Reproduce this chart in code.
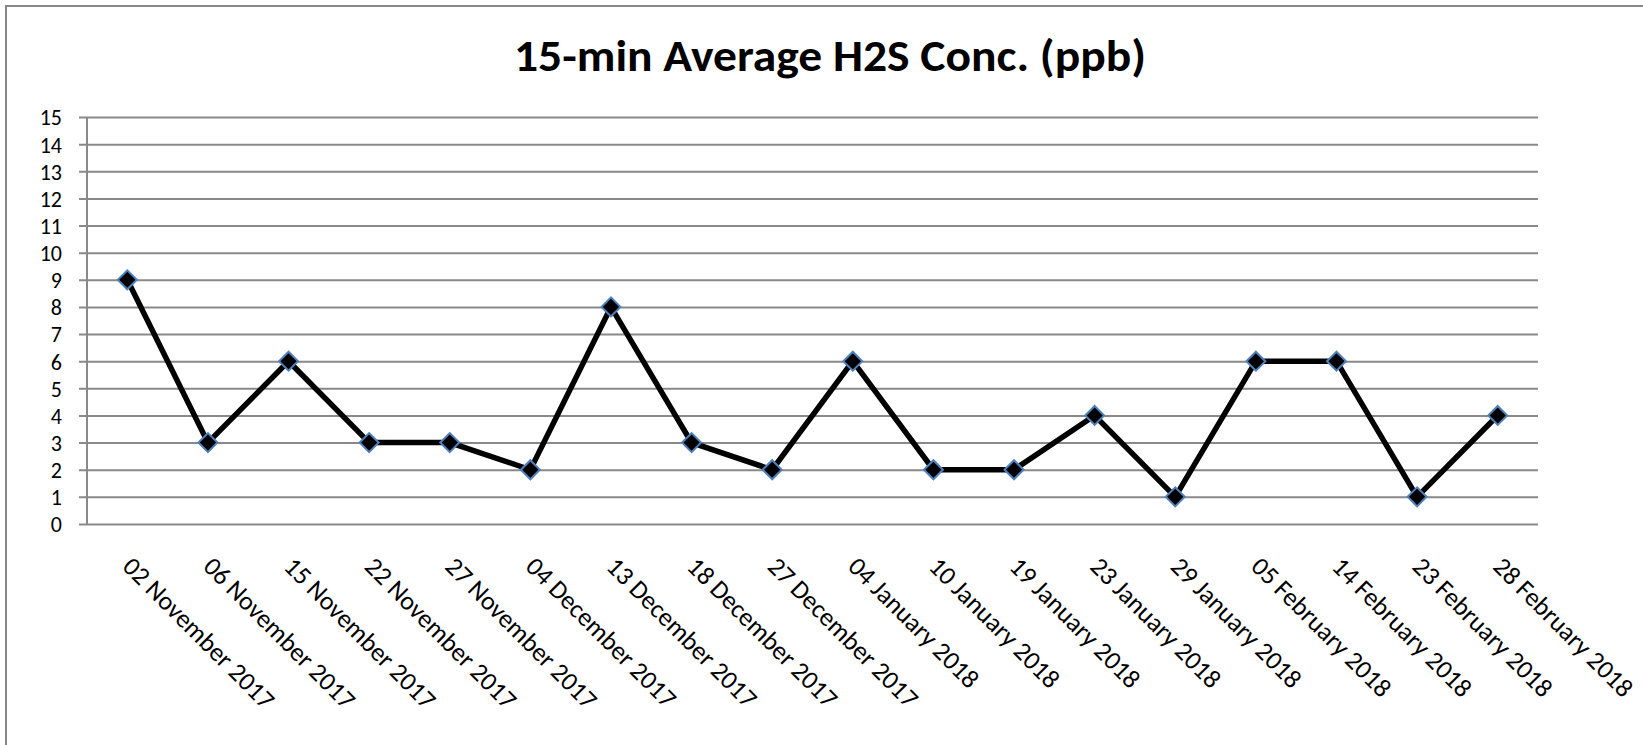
<!DOCTYPE html>
<html>
<head>
<meta charset="utf-8">
<script src="https://cdn.jsdelivr.net/npm/d3@7"></script>
<style>
  html, body { margin: 0; padding: 0; background: #fff; }
  svg text { font-family: Calibri, Carlito, "Liberation Sans", Arial, sans-serif; fill: #000; }
</style>
</head>
<body>
<div id="chartContainer"></div>
<script>
// sample dates (x categories)
const dates = [
  "02 November 2017", "06 November 2017", "15 November 2017", "22 November 2017",
  "27 November 2017", "04 December 2017", "13 December 2017", "18 December 2017",
  "27 December 2017", "04 January 2018", "10 January 2018", "19 January 2018",
  "23 January 2018", "29 January 2018", "05 February 2018", "14 February 2018",
  "23 February 2018", "28 February 2018"
];

// 15-min average H2S, ppb
const h2s = [9, 3, 6, 3, 3, 2, 8, 3, 2, 6, 2, 2, 4, 1, 6, 6, 1, 4];

// y tick labels
const yTicks = d3.range(0, 16);

const titleText = "15-min Average H2S Conc. (ppb)";

// ************** chart setup *****************
const width = 1643,
  height = 745;

const plot = { left: 87, right: 1538, top: 117, bottom: 524 };

const svg = d3
  .select("#chartContainer")
  .append("svg")
  .attr("width", width)
  .attr("height", height);

// outer frame (only top + left edges show in the picture)
svg
  .append("path")
  .attr("d", "M6,745 L6,6 L1643,6")
  .attr("fill", "none")
  .attr("stroke", "#878787")
  .attr("stroke-width", 2);

const x = d3
  .scaleBand()
  .domain(dates)
  .range([plot.left, plot.right]);

const y = d3
  .scaleLinear()
  .domain([0, 15])
  .range([plot.bottom, plot.top]);

const cx = d => x(d) + x.bandwidth() / 2;

// title
svg
  .append("text")
  .attr("x", 830)
  .attr("y", 71)
  .attr("text-anchor", "middle")
  .attr("font-size", 44)
  .attr("font-weight", "bold")
  .attr("textLength", 632)
  .attr("lengthAdjust", "spacingAndGlyphs")
  .text(titleText);

// ****************** grid + y axis ***************************
const yAxis = d3
  .axisLeft(y)
  .tickValues(yTicks)
  .tickSize(-(plot.right - plot.left))
  .tickPadding(0)
  .tickFormat(d3.format("d"));

const gy = svg
  .append("g")
  .attr("transform", "translate(" + plot.left + ",0)")
  .call(yAxis);

gy.select(".domain").remove();

gy.selectAll(".tick line")
  .attr("x1", -8)
  .attr("stroke", "#898989")
  .attr("stroke-width", 2);

gy.selectAll(".tick text")
  .attr("x", -25)
  .attr("dy", "0.36em")
  .attr("font-size", 22)
  .attr("font-family", "Calibri, Carlito, 'Liberation Sans', Arial, sans-serif");

// vertical axis line
svg
  .append("line")
  .attr("x1", plot.left)
  .attr("x2", plot.left)
  .attr("y1", y(15))
  .attr("y2", y(0))
  .attr("stroke", "#898989")
  .attr("stroke-width", 2);

// ****************** x labels ***************************
svg
  .append("g")
  .selectAll("text")
  .data(dates)
  .enter()
  .append("text")
  .attr("transform", function(d) {
    return "translate(" + (cx(d) - 6) + ",568) rotate(45)";
  })
  .attr("text-anchor", "start")
  .attr("font-size", 26)
  .text(function(d) {
    return d;
  });

// ****************** line + markers ***************************
const line = d3
  .line()
  .x(function(d, i) {
    return cx(dates[i]);
  })
  .y(function(d) {
    return y(d);
  });

svg
  .append("path")
  .datum(h2s)
  .attr("d", line)
  .attr("fill", "none")
  .attr("stroke", "#000")
  .attr("stroke-width", 5.5)
  .attr("stroke-linejoin", "miter");

const diamond = d3.symbol().type(d3.symbolSquare).size(180);

svg
  .append("g")
  .selectAll("path")
  .data(h2s)
  .enter()
  .append("path")
  .attr("d", diamond)
  .attr("transform", function(d, i) {
    return "translate(" + cx(dates[i]) + "," + y(d) + ") rotate(45)";
  })
  .attr("fill", "#000")
  .attr("stroke", "#4f81bd")
  .attr("stroke-width", 2);
</script>
</body>
</html>
